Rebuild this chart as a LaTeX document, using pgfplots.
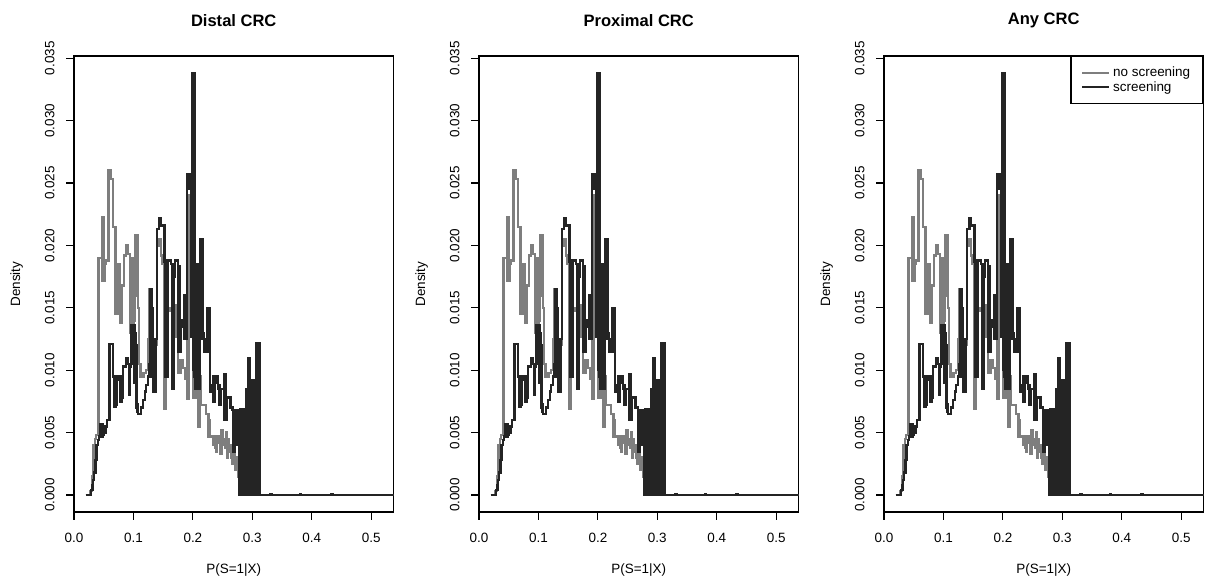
\documentclass[border=0pt]{standalone}
\usepackage{fontspec}
\setmainfont{Liberation Sans}
\usepackage{pgfplots}
\pgfplotsset{compat=1.18}
\usepackage{pgfplotstable}
\definecolor{cgrey}{HTML}{7E7E7E}
\definecolor{cblack}{HTML}{242424}

\pgfplotstableread{
x y
0.0195 0
0.0270 0.0003
0.0300 0.0008
0.0310 0.0015
0.0330 0.0040
0.0350 0.0045
0.0370 0.0048
0.0410 0.0190
0.0470 0.0223
0.0480 0.0172
0.0490 0.0223
0.0500 0.0172
0.0510 0.0185
0.0540 0.0188
0.0580 0.0260
0.0625 0.0253
0.0660 0.0215
0.0700 0.0145
0.0710 0.0182
0.0720 0.0145
0.0730 0.0182
0.0740 0.0150
0.0750 0.0185
0.0770 0.0138
0.0780 0.0168
0.0790 0.0138
0.0800 0.0168
0.0840 0.0192
0.0875 0.0200
0.0905 0.0193
0.0940 0.0165
0.0950 0.0130
0.0960 0.0190
0.0970 0.0125
0.0980 0.0190
0.0990 0.0125
0.1000 0.0188
0.1010 0.0140
0.1020 0.0150
0.1030 0.0208
0.1040 0.0160
0.1050 0.0208
0.1060 0.0160
0.1070 0.0208
0.1080 0.0150
0.1090 0.0105
0.1120 0.0095
0.1170 0.0098
0.1210 0.0100
0.1250 0.0125
0.1270 0.0165
0.1280 0.0125
0.1290 0.0165
0.1300 0.0120
0.1310 0.0110
0.1340 0.0115
0.1370 0.0120
0.1400 0.0200
0.1425 0.0205
0.1460 0.0192
0.1490 0.0185
0.1510 0.0069
0.1520 0.0185
0.1530 0.0069
0.1540 0.0150
0.1580 0.0148
0.1620 0.0150
0.1650 0.0095
0.1660 0.0150
0.1670 0.0095
0.1680 0.0152
0.1710 0.0127
0.1750 0.0098
0.1790 0.0108
0.1830 0.0102
0.1870 0.0093
0.1900 0.0077
0.1910 0.0150
0.1920 0.0077
0.1930 0.0150
0.1940 0.0240
0.1970 0.0135
0.2000 0.0078
0.2010 0.0135
0.2020 0.0078
0.2030 0.0135
0.2040 0.0078
0.2050 0.0120
0.2060 0.0092
0.2090 0.0055
0.2100 0.0095
0.2110 0.0055
0.2120 0.0095
0.2130 0.0072
0.2220 0.0065
0.2265 0.0047
0.2275 0.0060
0.2285 0.0047
0.2350 0.0040
0.2380 0.0038
0.2390 0.0047
0.2400 0.0035
0.2410 0.0047
0.2430 0.0042
0.2460 0.0033
0.2470 0.0052
0.2480 0.0033
0.2490 0.0052
0.2500 0.0040
0.2520 0.0045
0.2550 0.0038
0.2560 0.0050
0.2570 0.0030
0.2580 0.0045
0.2600 0.0035
0.2640 0.0030
0.2650 0.0040
0.2660 0.0025
0.2670 0.0035
0.2700 0.0028
0.2710 0.0020
0.2720 0.0030
0.2740 0.0022
0.2755 0.0015
0.2765 0.0025
0.2780 0.0000
0.3500 0.0000
0.5400 0.0000
}\greytab

\pgfplotstableread{
x y
0.0195 0
0.0290 0.0004
0.0310 0.0008
0.0320 0.0012
0.0340 0.0018
0.0360 0.0028
0.0380 0.0040
0.0400 0.0044
0.0420 0.0047
0.0440 0.0057
0.0450 0.0047
0.0460 0.0057
0.0470 0.0047
0.0480 0.0057
0.0490 0.0048
0.0500 0.0050
0.0530 0.0055
0.0560 0.0060
0.0595 0.0121
0.0660 0.0095
0.0670 0.0071
0.0680 0.0095
0.0690 0.0071
0.0700 0.0095
0.0710 0.0072
0.0725 0.0092
0.0750 0.0095
0.0770 0.0075
0.0780 0.0095
0.0790 0.0075
0.0800 0.0095
0.0810 0.0078
0.0825 0.0103
0.0870 0.0110
0.0910 0.0105
0.0935 0.0080
0.0945 0.0103
0.0960 0.0105
0.0970 0.0136
0.0980 0.0108
0.0990 0.0136
0.1000 0.0108
0.1010 0.0136
0.1020 0.0090
0.1030 0.0130
0.1040 0.0070
0.1050 0.0120
0.1060 0.0067
0.1070 0.0073
0.1080 0.0065
0.1130 0.0070
0.1160 0.0076
0.1190 0.0083
0.1210 0.0088
0.1240 0.0095
0.1260 0.0105
0.1280 0.0165
0.1290 0.0095
0.1300 0.0165
0.1310 0.0095
0.1320 0.0150
0.1330 0.0110
0.1340 0.0083
0.1350 0.0120
0.1360 0.0083
0.1370 0.0125
0.1400 0.0213
0.1435 0.0222
0.1465 0.0216
0.1525 0.0187
0.1535 0.0095
0.1545 0.0187
0.1555 0.0095
0.1570 0.0188
0.1630 0.0185
0.1645 0.0085
0.1655 0.0185
0.1665 0.0085
0.1680 0.0175
0.1700 0.0188
0.1745 0.0183
0.1760 0.0115
0.1770 0.0183
0.1780 0.0115
0.1790 0.0140
0.1830 0.0135
0.1850 0.0160
0.1860 0.0125
0.1870 0.0160
0.1880 0.0125
0.1890 0.0155
0.1905 0.0257
0.1940 0.0245
0.1965 0.0127
0.1975 0.0155
0.1985 0.0127
0.1995 0.0338
0.2005 0.0100
0.2015 0.0338
0.2025 0.0095
0.2035 0.0170
0.2045 0.0085
0.2055 0.0170
0.2065 0.0085
0.2075 0.0185
0.2085 0.0085
0.2095 0.0185
0.2105 0.0085
0.2115 0.0185
0.2125 0.0205
0.2135 0.0125
0.2145 0.0205
0.2155 0.0125
0.2165 0.0205
0.2175 0.0130
0.2190 0.0115
0.2210 0.0125
0.2235 0.0150
0.2245 0.0115
0.2255 0.0150
0.2265 0.0115
0.2275 0.0150
0.2285 0.0083
0.2330 0.0088
0.2340 0.0075
0.2350 0.0095
0.2360 0.0075
0.2370 0.0090
0.2390 0.0095
0.2420 0.0085
0.2440 0.0072
0.2450 0.0088
0.2460 0.0072
0.2470 0.0085
0.2525 0.0097
0.2535 0.0060
0.2545 0.0097
0.2555 0.0060
0.2570 0.0078
0.2630 0.0070
0.2670 0.0068
0.2680 0.0035
0.2690 0.0068
0.2700 0.0035
0.2710 0.0068
0.2720 0.0040
0.2740 0.0068
0.2760 0.0045
0.2770 0.0068
0.2780 0
0.2790 0.0069
0.2800 0
0.2810 0.0069
0.2820 0
0.2830 0.0069
0.2840 0
0.2850 0.0069
0.2860 0
0.2870 0.0069
0.2880 0
0.2890 0.0085
0.2900 0
0.2910 0.0085
0.2920 0
0.2930 0.0110
0.2940 0
0.2950 0.0110
0.2960 0
0.2970 0.0092
0.2980 0
0.2990 0.0092
0.3000 0
0.3010 0.0092
0.3020 0
0.3030 0.0092
0.3040 0
0.3050 0.0092
0.3060 0
0.3070 0.0122
0.3080 0
0.3090 0.0122
0.3100 0
0.3110 0.0122
0.3120 0
0.3300 0.0001
0.3330 0
0.3800 0.0001
0.3820 0
0.4320 0.0001
0.4360 0
0.5400 0
}\blacktab

\pgfplotsset{
  panel/.style={
    scale only axis, width=239.6pt, height=342pt,
    xmin=0, xmax=0.5375, ymin=-0.00136, ymax=0.03518,
    axis line style={line width=0.9pt, black},
    every tick/.style={line width=0.9pt, black},
    tick align=outside, tick pos=left, major tick length=5.8pt,
    minor tick num=0, scaled ticks=false,
    xtick={0,0.1,0.2,0.3,0.4,0.5},
    xticklabels={0.0,0.1,0.2,0.3,0.4,0.5},
    ytick={0,0.005,0.010,0.015,0.020,0.025,0.030,0.035},
    yticklabels={0.000,0.005,0.010,0.015,0.020,0.025,0.030,0.035},
    tick label style={font=\fontsize{10.1}{12}\selectfont},
    xticklabel shift=6.75pt,
    yticklabel shift=5.25pt,
    yticklabel style={rotate=90, anchor=south},
    label style={font=\fontsize{10.1}{12}\selectfont},
    xlabel={P(S=1|X)}, ylabel={Density},
    xlabel style={at={(axis description cs:0.5,0)}, anchor=center, yshift=-43.7pt},
    ylabel style={at={(axis description cs:-0.1793,0.5)}, anchor=center},
    title style={font=\bfseries\fontsize{12.4}{14}\selectfont, at={(axis description cs:0.5,1)}, anchor=center, yshift=20.8pt},
    gplot/.style={const plot, color=cgrey, line width=1.8pt, line join=miter},
    bplot/.style={const plot, color=cblack, line width=1.8pt, line join=miter},
  }
}

\begin{document}
\begin{tikzpicture}
\useasboundingbox (0,0) rectangle (903.75pt,434.25pt);
\begin{axis}[panel, at={(55.5pt,50.25pt)}, anchor=south west, title={Distal CRC}]
\addplot[gplot] table {\greytab};
\addplot[bplot] table {\blacktab};
\end{axis}
\begin{axis}[panel, at={(359.25pt,50.25pt)}, anchor=south west, title={Proximal CRC}]
\addplot[gplot] table {\greytab};
\addplot[bplot] table {\blacktab};
\end{axis}
\begin{axis}[panel, at={(663pt,50.25pt)}, anchor=south west, title={Any CRC},
  legend style={at={(axis description cs:1,1)}, anchor=north east, draw=black, line width=0.9pt,
    font=\fontsize{10.1}{12}\selectfont, inner xsep=7.5pt, inner ysep=5.7pt, row sep=-2pt,
    column sep=0pt},
  legend cell align=left,
  legend image code/.code={\draw[#1, line width=1.8pt] (0pt,0pt) -- (20.25pt,0pt);}]
\addplot[gplot] table {\greytab};
\addlegendentry{no screening}
\addplot[bplot] table {\blacktab};
\addlegendentry{screening}
\end{axis}
\end{tikzpicture}
\end{document}
